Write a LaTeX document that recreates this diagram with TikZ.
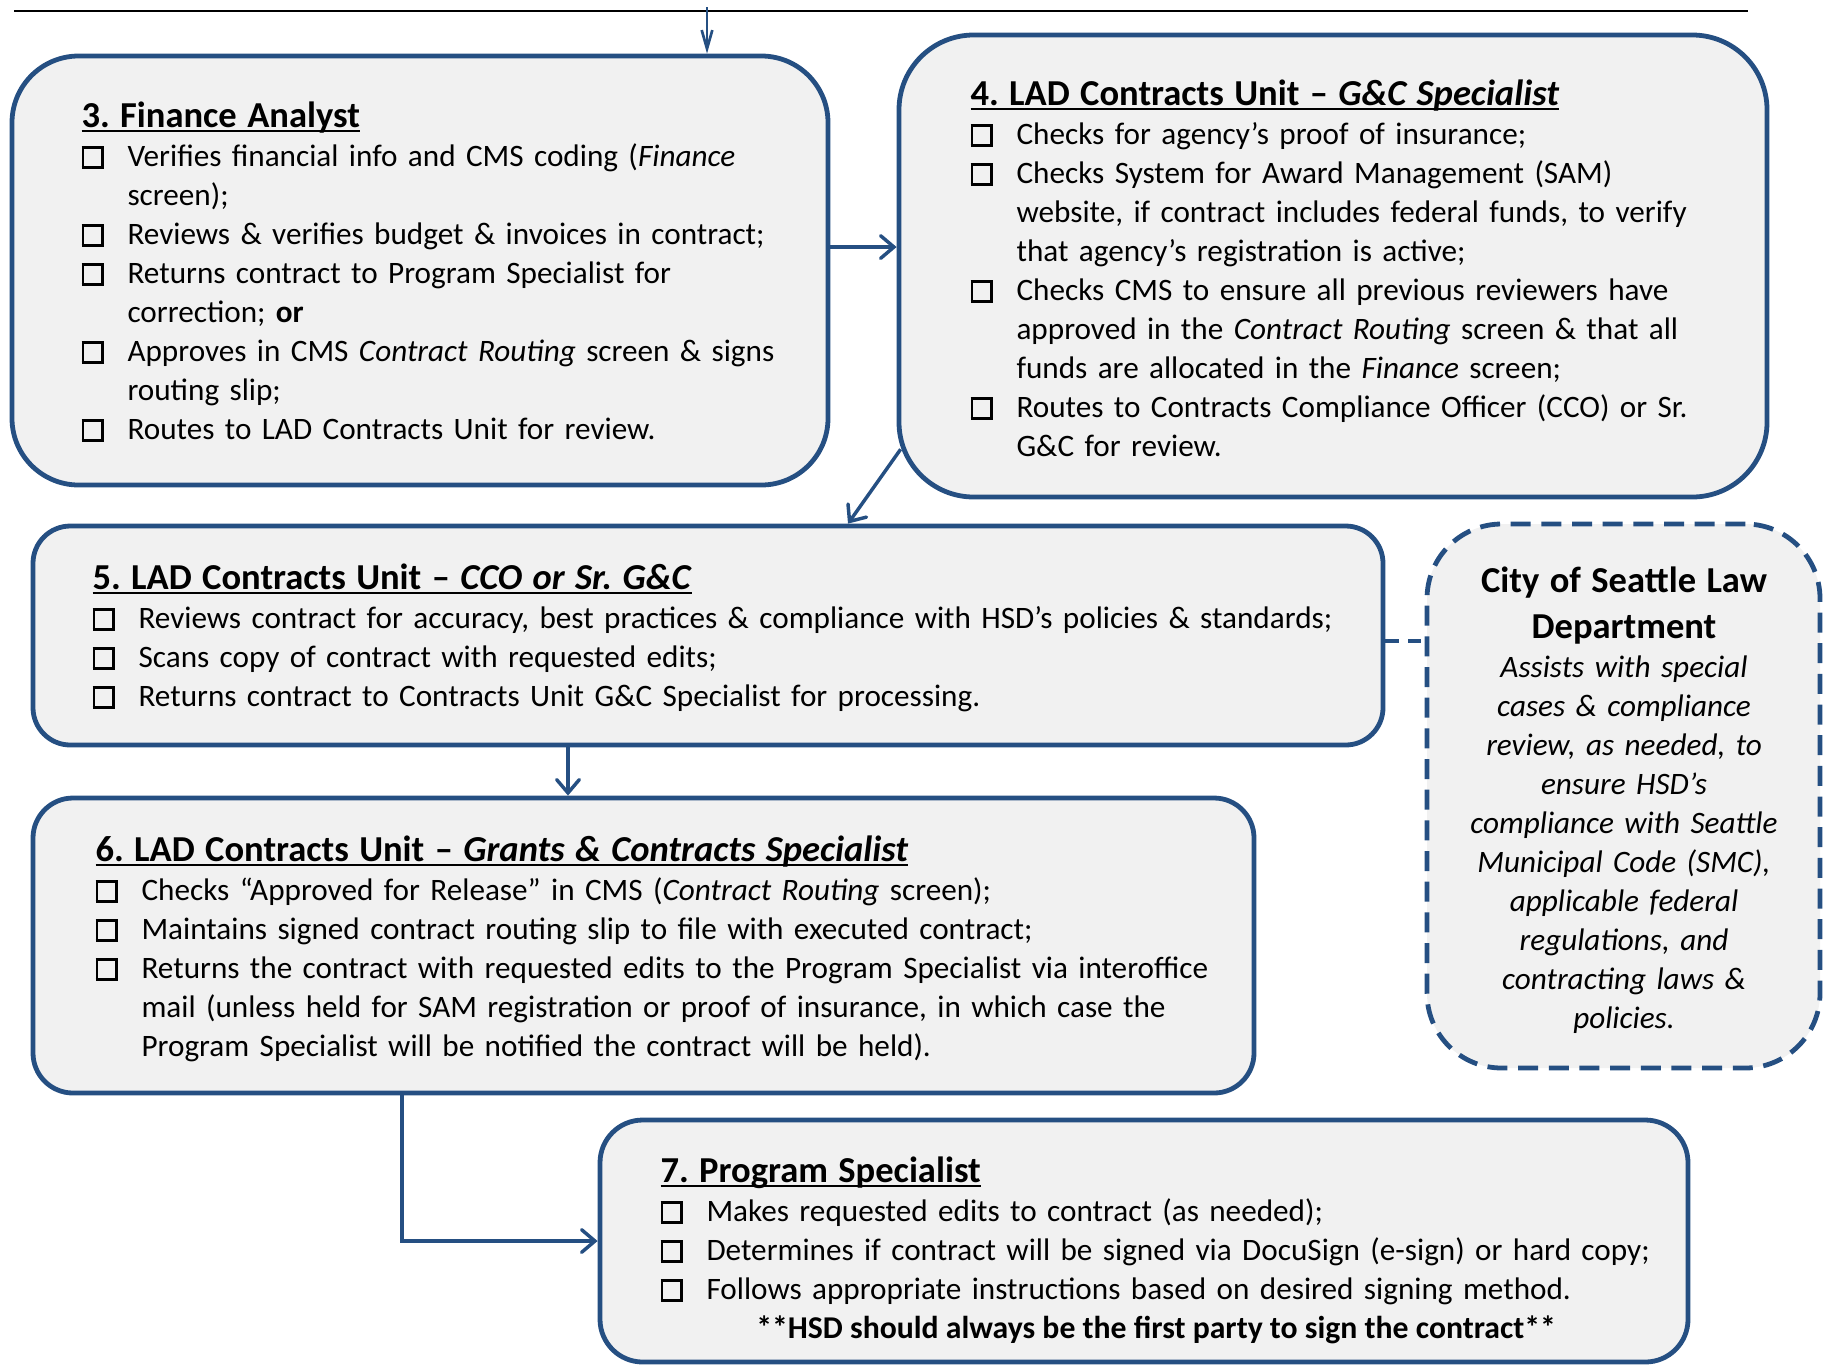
\documentclass[tikz,border=0pt]{standalone}
\usepackage{fontspec}
\setmainfont{Carlito}
\usetikzlibrary{arrows.meta,fit}

\definecolor{flowblue}{RGB}{37,79,130}
\definecolor{boxgray}{RGB}{241,241,241}

% check box, list item and underlined step title
\newcommand\chk{{\setlength{\fboxsep}{0pt}\setlength{\fboxrule}{0.95pt}\framebox{\rule{0pt}{6.5pt}\hspace{6.5pt}}}}
\newcommand\itm[1]{\par\hangindent=17.25pt\hangafter=1\noindent\makebox[17.25pt][l]{\chk}#1\par}
\newcommand\ttl[1]{{\fontsize{13.7pt}{17.25pt}\bfseries\setbox0\hbox{#1}\rlap{\rule[-1.8pt]{\wd0}{0.75pt}}\box0}}

\tikzset{
  stage/.style={draw=flowblue,fill=boxgray,line width=1.8pt,inner sep=0pt},
  stagetext/.style={anchor=base west,inner sep=0pt,align=left,text width=#1,
    font=\fontsize{11.7pt}{14.625pt}\selectfont\frenchspacing},
  flow/.style={draw=flowblue,line width=1.3pt,-{Straight Barb[length=5pt,width=8.5pt,line cap=round]}},
}

\begin{document}
\begin{tikzpicture}[x=0.375pt,y=-0.375pt]
\useasboundingbox (0,0) rectangle (1824,1364);

\draw[line width=0.75pt] (14,11) -- (1748,11);

% the steps
\node[stage,rounded corners=25pt,fit={(12,56) (828,485)}] (fa) {};
\node[stage,rounded corners=28pt,fit={(899,35) (1767,497)}] (gc) {};
\node[stage,rounded corners=14pt,fit={(33,526) (1383,745)}] (cco) {};
\node[stage,rounded corners=28pt,dash pattern=on 7.5pt off 4pt,fit={(1427,524) (1820,1068)}] (law) {};
\node[stage,rounded corners=15pt,fit={(33,798) (1254,1093)}] (gcs) {};
\node[stage,rounded corners=16pt,fit={(600,1120) (1688,1362)}] (ps) {};

\node[stagetext=280pt] (fatext) at (81,127) {\ttl{3. Finance Analyst}
\itm{Verifies financial info and CMS coding (\textit{Finance}\newline screen);}
\itm{Reviews \& verifies budget \& invoices in contract;}
\itm{Returns contract to Program Specialist for\newline correction; \textbf{or}}
\itm{Approves in CMS \textit{Contract Routing} screen \& signs\newline routing slip;}
\itm{Routes to LAD Contracts Unit for review.}};

\node[stagetext=299pt] (gctext) at (970,105) {\ttl{4. LAD Contracts Unit -- \textit{G\&C Specialist}}
\itm{Checks for agency’s proof of insurance;}
\itm{Checks System for Award Management (SAM)\newline website, if contract includes federal funds, to verify\newline that agency’s registration is active;}
\itm{Checks CMS to ensure all previous reviewers have\newline approved in the \textit{Contract Routing} screen \& that all\newline funds are allocated in the \textit{Finance} screen;}
\itm{Routes to Contracts Compliance Officer (CCO) or Sr.\newline G\&C for review.}};

\node[stagetext=484pt] (ccotext) at (92,589) {\ttl{5. LAD Contracts Unit -- \textit{CCO or Sr. G\&C}}
\itm{Reviews contract for accuracy, best practices \& compliance with HSD’s policies \& standards;}
\itm{Scans copy of contract with requested edits;}
\itm{Returns contract to Contracts Unit G\&C Specialist for processing.}};

\node[stagetext=434pt] (gcstext) at (95,861) {\ttl{6. LAD Contracts Unit -- \textit{Grants \& Contracts Specialist}}
\itm{Checks “Approved for Release” in CMS (\textit{Contract Routing} screen);}
\itm{Maintains signed contract routing slip to file with executed contract;}
\itm{Returns the contract with requested edits to the Program Specialist via interoffice\newline mail (unless held for SAM registration or proof of insurance, in which case the\newline Program Specialist will be notified the contract will be held).}};

\node[stagetext=385pt] (pstext) at (660,1182) {\ttl{7. Program Specialist}
\itm{Makes requested edits to contract (as needed);}
\itm{Determines if contract will be signed via DocuSign (e-sign) or hard copy;}
\itm{Follows appropriate instructions based on desired signing method.}};
\node[anchor=base,inner sep=0pt,font=\fontsize{11.9pt}{14.625pt}\bfseries] (psnote) at (1156,1338) {**HSD should always be the first party to sign the contract**};

\node[anchor=base,inner sep=0pt,text width=140pt,align=center,font=\fontsize{11.7pt}{14.625pt}\selectfont] (lawtext) at (1624,592)
  {{\fontsize{13.7pt}{17.25pt}\bfseries City of Seattle Law\\ Department\par}
  \itshape Assists with special\\ cases \& compliance\\ review, as needed, to\\ ensure HSD’s\\ compliance with Seattle\\ Municipal Code (SMC),\\ applicable federal\\ regulations, and\\ contracting laws \&\\ policies.};

% connectors
\coordinate (in) at (707,7);
\draw[draw=flowblue,line width=1pt,-{Straight Barb[length=7pt,width=4pt]}] (in) -- (in |- fa.north);
\draw[flow] ([yshift=8.8pt]fa.east) -- ([yshift=8.8pt]fa.east -| gc.west);
\draw[flow] ([shift={(1.5pt,18.8pt)}]gc.south west) -- ([xshift=52.5pt]cco.north);
\draw[flow] ([xshift=-52.5pt]cco.south) -- ([xshift=-52.5pt]cco.south |- gcs.north);
\draw[flow] ([xshift=-90.6pt]gcs.south) |- (ps.west);
\draw[draw=flowblue,line width=1.3pt,dash pattern=on 5pt off 3.5pt] ([yshift=-2pt]cco.east) -- ([yshift=-2pt]cco.east -| law.west);
\end{tikzpicture}
\end{document}
